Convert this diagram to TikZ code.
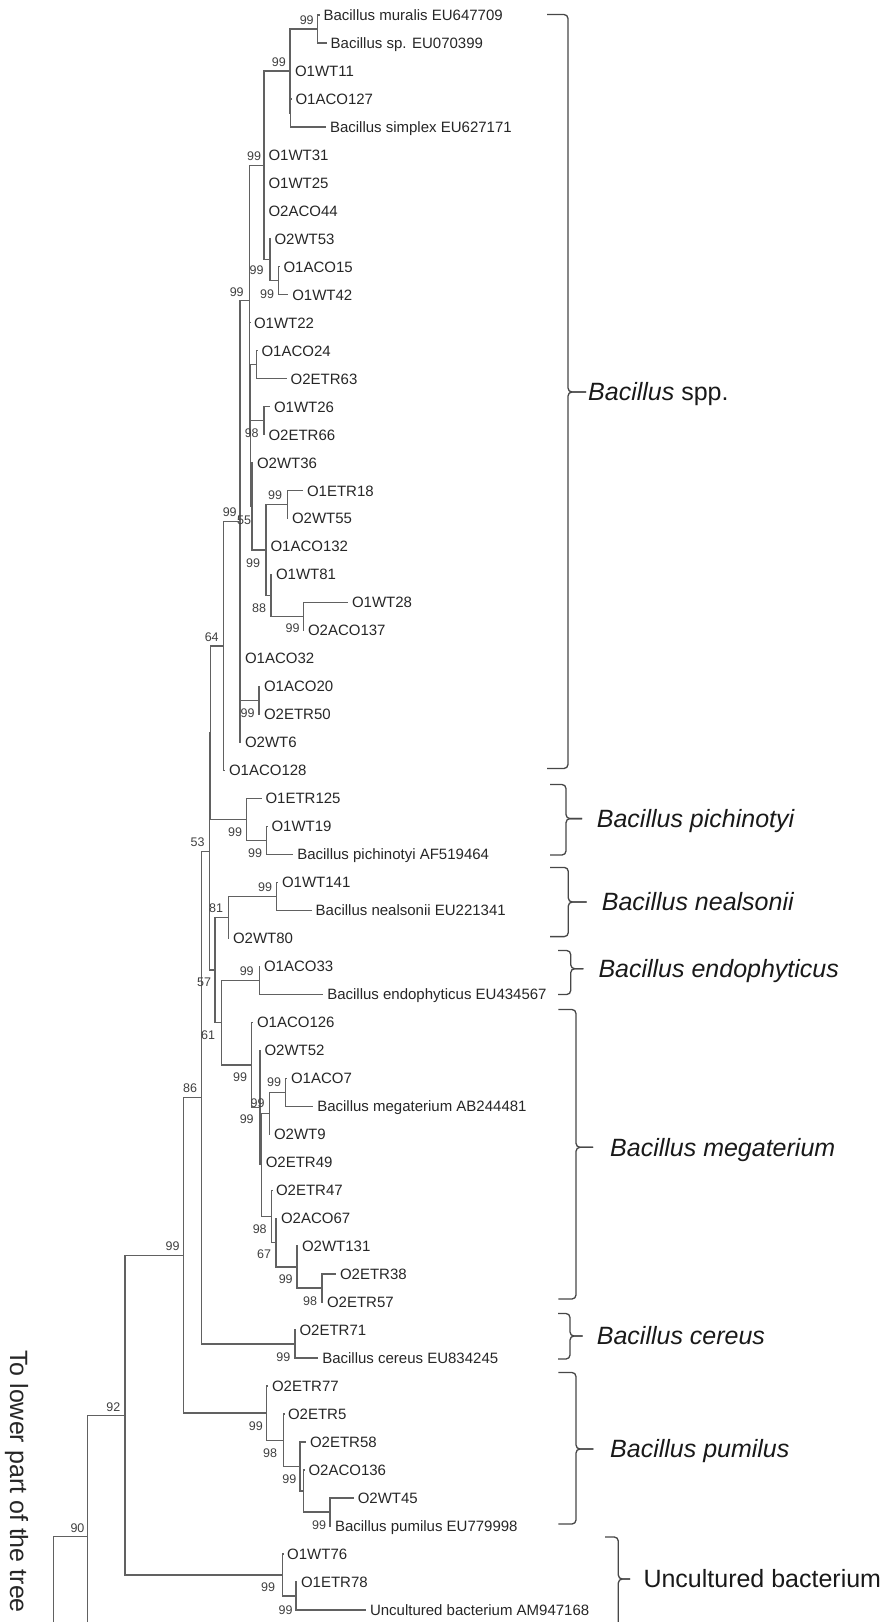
\documentclass[tikz,border=0pt]{standalone}
\usepackage{fontspec}
\setmainfont{Liberation Sans}
\begin{document}
\begin{tikzpicture}[x=1pt,y=-1pt,
  br/.style={draw=black!62, line width=1.3pt},
  leaf/.style={anchor=west, inner xsep=4pt, inner ysep=0pt, outer sep=0pt, text height=10.7pt, text depth=0pt, font=\fontsize{15}{18}\selectfont, text=black!85},
  bs/.style={inner sep=0pt, font=\fontsize{12.5}{14}\selectfont, text=black!75},
  grp/.style={anchor=west, inner sep=0pt, text height=17.9pt, text depth=0pt, font=\fontsize{25}{30}\selectfont, text=black!90},
  bracepath/.style={draw=black!72, line width=1.3pt, rounded corners=4pt}]
\useasboundingbox (0,0) rectangle (887,1622);
% ---------- leaves ----------
\node[leaf] (l0) at (319.5,15) {Bacillus muralis EU647709};
\node[leaf] (l1) at (326.7,42.98) {Bacillus sp. EU070399};
\node[leaf] (l2) at (291,70.96) {O1WT11};
\node[leaf] (l3) at (291.5,98.94) {O1ACO127};
\node[leaf] (l4) at (326,126.92) {Bacillus simplex EU627171};
\node[leaf] (l5) at (264.5,154.9) {O1WT31};
\node[leaf] (l6) at (264.5,182.88) {O1WT25};
\node[leaf] (l7) at (264.5,210.86) {O2ACO44};
\node[leaf] (l8) at (270.5,238.84) {O2WT53};
\node[leaf] (l9) at (279.5,266.82) {O1ACO15};
\node[leaf] (l10) at (288.3,294.8) {O1WT42};
\node[leaf] (l11) at (250,322.78) {O1WT22};
\node[leaf] (l12) at (257.5,350.76) {O1ACO24};
\node[leaf] (l13) at (286.7,378.74) {O2ETR63};
\node[leaf] (l14) at (270,406.72) {O1WT26};
\node[leaf] (l15) at (264.5,434.7) {O2ETR66};
\node[leaf] (l16) at (253,462.68) {O2WT36};
\node[leaf] (l17) at (303,490.66) {O1ETR18};
\node[leaf] (l18) at (288,518.64) {O2WT55};
\node[leaf] (l19) at (266.5,546.62) {O1ACO132};
\node[leaf] (l20) at (272,574.6) {O1WT81};
\node[leaf] (l21) at (348,602.58) {O1WT28};
\node[leaf] (l22) at (304,630.56) {O2ACO137};
\node[leaf] (l23) at (241,658.54) {O1ACO32};
\node[leaf] (l24) at (260,686.52) {O1ACO20};
\node[leaf] (l25) at (260,714.5) {O2ETR50};
\node[leaf] (l26) at (241,742.48) {O2WT6};
\node[leaf] (l27) at (225,770.46) {O1ACO128};
\node[leaf] (l28) at (261.5,798.44) {O1ETR125};
\node[leaf] (l29) at (267.5,826.42) {O1WT19};
\node[leaf] (l30) at (293.3,854.4) {Bacillus pichinotyi AF519464};
\node[leaf] (l31) at (278,882.38) {O1WT141};
\node[leaf] (l32) at (311.7,910.36) {Bacillus nealsonii EU221341};
\node[leaf] (l33) at (229,938.34) {O2WT80};
\node[leaf] (l34) at (260,966.32) {O1ACO33};
\node[leaf] (l35) at (323.3,994.3) {Bacillus endophyticus EU434567};
\node[leaf] (l36) at (253,1022.28) {O1ACO126};
\node[leaf] (l37) at (260.5,1050.26) {O2WT52};
\node[leaf] (l38) at (287,1078.24) {O1ACO7};
\node[leaf] (l39) at (313.3,1106.22) {Bacillus megaterium AB244481};
\node[leaf] (l40) at (270,1134.2) {O2WT9};
\node[leaf] (l41) at (261.8,1162.18) {O2ETR49};
\node[leaf] (l42) at (272,1190.16) {O2ETR47};
\node[leaf] (l43) at (277,1218.14) {O2ACO67};
\node[leaf] (l44) at (298,1246.12) {O2WT131};
\node[leaf] (l45) at (336,1274.1) {O2ETR38};
\node[leaf] (l46) at (323,1302.08) {O2ETR57};
\node[leaf] (l47) at (295.5,1330.06) {O2ETR71};
\node[leaf] (l48) at (318.3,1358.04) {Bacillus cereus EU834245};
\node[leaf] (l49) at (268,1386.02) {O2ETR77};
\node[leaf] (l50) at (284,1414) {O2ETR5};
\node[leaf] (l51) at (306,1441.98) {O2ETR58};
\node[leaf] (l52) at (304.5,1469.96) {O2ACO136};
\node[leaf] (l53) at (353.8,1497.94) {O2WT45};
\node[leaf] (l54) at (331,1525.92) {Bacillus pumilus EU779998};
\node[leaf] (l55) at (283.2,1553.9) {O1WT76};
\node[leaf] (l56) at (297,1581.88) {O1ETR78};
\node[leaf] (l57) at (366,1609.86) {Uncultured bacterium AM947168};
% ---------- internal nodes ----------
\coordinate (A) at (317.3,28.99);
\coordinate (B) at (290,70.96);
\coordinate (B2) at (290.8,112.93);
\coordinate (C) at (264,165.4);
\coordinate (D) at (270,259.83);
\coordinate (E) at (278.3,280.81);
\coordinate (H) at (249.5,300.49);
\coordinate (I) at (250.6,435.58);
\coordinate (J) at (252,506.4);
\coordinate (L) at (256.7,364.75);
\coordinate (M) at (264,420.71);
\coordinate (K) at (266,550.12);
\coordinate (N1) at (287.3,504.65);
\coordinate (K2) at (271,595.59);
\coordinate (K3) at (303.3,616.57);
\coordinate (G) at (240,521.49);
\coordinate (N) at (259,700.51);
\coordinate (P) at (223.3,645.98);
\coordinate (Q) at (210.7,732.7);
\coordinate (R) at (246.7,819.43);
\coordinate (S) at (266.7,840.41);
\coordinate (U) at (209.4,851.34);
\coordinate (Y) at (215,969.98);
\coordinate (W) at (228.3,917.36);
\coordinate (X) at (276.7,896.37);
\coordinate (Z) at (221.7,1022.6);
\coordinate (AA) at (259.3,980.31);
\coordinate (BB) at (251.7,1064.9);
\coordinate (QQ) at (260,1107.53);
\coordinate (QQ2) at (261.3,1164.8);
\coordinate (PP) at (269.3,1113.22);
\coordinate (OO) at (285.7,1092.23);
\coordinate (RR) at (271.7,1216.39);
\coordinate (SS) at (276,1242.62);
\coordinate (TT) at (297,1267.1);
\coordinate (UU) at (322,1288.09);
\coordinate (T) at (201.7,1097.7);
\coordinate (DD) at (295,1344.05);
\coordinate (CC) at (183.3,1255.41);
\coordinate (FF) at (266.5,1413.13);
\coordinate (GG) at (283.5,1440.23);
\coordinate (HH) at (300,1466.47);
\coordinate (HH2) at (303.8,1490.95);
\coordinate (JJ) at (330,1511.93);
\coordinate (EE) at (125,1415.15);
\coordinate (MM) at (282.7,1574.89);
\coordinate (NN) at (296,1595.87);
\coordinate (KK) at (87.7,1536.7);
\coordinate (KKend) at (87.7,1622);
\coordinate (LL) at (53.3,1536.7);
\coordinate (LLend) at (53.3,1622);
% ---------- branches ----------
\draw[br] (A) |- (l0.west) (A) |- (l1.west);
\draw[br] (B) |- (A) (B) |- (l2.west) (B) |- (B2);
\draw[br] (B2) |- (l3.west) (B2) |- (l4.west);
\draw[br] (C) |- (B) (C) |- (l5.west) (C) |- (l6.west) (C) |- (l7.west) (C) |- (D);
\draw[br] (D) |- (l8.west) (D) |- (E);
\draw[br] (E) |- (l9.west) (E) |- (l10.west);
\draw[br] (H) |- (C) (H) |- (l11.west) (H) |- (I);
\draw[br] (I) |- (L) (I) |- (M) (I) |- (J);
\draw[br] (L) |- (l12.west) (L) |- (l13.west);
\draw[br] (M) |- (l14.west) (M) |- (l15.west);
\draw[br] (J) |- (l16.west) (J) |- (K);
\draw[br] (K) |- (N1) (K) |- (l19.west) (K) |- (K2);
\draw[br] (N1) |- (l17.west) (N1) |- (l18.west);
\draw[br] (K2) |- (l20.west) (K2) |- (K3);
\draw[br] (K3) |- (l21.west) (K3) |- (l22.west);
\draw[br] (G) |- (H) (G) |- (l23.west) (G) |- (N) (G) |- (l26.west);
\draw[br] (N) |- (l24.west) (N) |- (l25.west);
\draw[br] (P) |- (G) (P) |- (l27.west);
\draw[br] (Q) |- (P) (Q) |- (R);
\draw[br] (R) |- (l28.west) (R) |- (S);
\draw[br] (S) |- (l29.west) (S) |- (l30.west);
\draw[br] (U) |- (Q) (U) |- (Y);
\draw[br] (Y) |- (W) (Y) |- (Z);
\draw[br] (W) |- (X) (W) |- (l33.west);
\draw[br] (X) |- (l31.west) (X) |- (l32.west);
\draw[br] (Z) |- (AA) (Z) |- (BB);
\draw[br] (AA) |- (l34.west) (AA) |- (l35.west);
\draw[br] (BB) |- (l36.west) (BB) |- (QQ);
\draw[br] (QQ) |- (l37.west) (QQ) |- (QQ2);
\draw[br] (QQ2) |- (PP) (QQ2) |- (l41.west) (QQ2) |- (RR);
\draw[br] (PP) |- (OO) (PP) |- (l40.west);
\draw[br] (OO) |- (l38.west) (OO) |- (l39.west);
\draw[br] (RR) |- (l42.west) (RR) |- (SS);
\draw[br] (SS) |- (l43.west) (SS) |- (TT);
\draw[br] (TT) |- (l44.west) (TT) |- (UU);
\draw[br] (UU) |- (l45.west) (UU) |- (l46.west);
\draw[br] (T) |- (U) (T) |- (DD);
\draw[br] (DD) |- (l47.west) (DD) |- (l48.west);
\draw[br] (CC) |- (T) (CC) |- (FF);
\draw[br] (FF) |- (l49.west) (FF) |- (GG);
\draw[br] (GG) |- (l50.west) (GG) |- (HH);
\draw[br] (HH) |- (l51.west) (HH) |- (HH2);
\draw[br] (HH2) |- (l52.west) (HH2) |- (JJ);
\draw[br] (JJ) |- (l53.west) (JJ) |- (l54.west);
\draw[br] (EE) |- (CC) (EE) |- (MM);
\draw[br] (MM) |- (l55.west) (MM) |- (NN);
\draw[br] (NN) |- (l56.west) (NN) |- (l57.west);
\draw[br] (KK) |- (EE) (KK) -- (KKend);
\draw[br] (LL) -- (KK) (LL) -- (LLend);
% ---------- bootstrap values ----------
\node[bs] (bA) at (306.7,20) {99};
\node[bs] (bB) at (278.8,62.3) {99};
\node[bs] (bC) at (254,156) {99};
\node[bs] (bD) at (256.5,270) {99};
\node[bs] (bE) at (267,294) {99};
\node[bs] (bH) at (236.7,291.7) {99};
\node[bs] (bM) at (251.7,433) {98};
\node[bs] (bN1) at (275,495) {99};
\node[bs] (bG) at (229.7,511.7) {99};
\node[bs] (bJ) at (244,520) {55};
\node[bs] (bK) at (253,563) {99};
\node[bs] (bK2) at (259,608) {88};
\node[bs] (bK3) at (292.5,628) {99};
\node[bs] (bP) at (211.7,636.7) {64};
\node[bs] (bN) at (247.5,713) {99};
\node[bs] (bR) at (235,831.7) {99};
\node[bs] (bS) at (255,853) {99};
\node[bs] (bU) at (197.5,842.5) {53};
\node[bs] (bX) at (265,886.7) {99};
\node[bs] (bW) at (216,908) {81};
\node[bs] (bY) at (204,982.5) {57};
\node[bs] (bAA) at (246.7,971) {99};
\node[bs] (bZ) at (208,1035) {61};
\node[bs] (bBB) at (240,1077.5) {99};
\node[bs] (bOO) at (274,1082) {99};
\node[bs] (bPP) at (257.5,1103) {99};
\node[bs] (bQQ) at (246.7,1119) {99};
\node[bs] (bRR) at (259.7,1229) {98};
\node[bs] (bSS) at (264,1254) {67};
\node[bs] (bTT) at (285.7,1279) {99};
\node[bs] (bUU) at (310,1301) {98};
\node[bs] (bT) at (190,1088) {86};
\node[bs] (bDD) at (283.3,1356.7) {99};
\node[bs] (bCC) at (172.5,1246) {99};
\node[bs] (bFF) at (255.8,1426) {99};
\node[bs] (bGG) at (270,1453) {98};
\node[bs] (bHH) at (289.4,1479) {99};
\node[bs] (bJJ) at (319,1525) {99};
\node[bs] (bMM) at (268,1586.7) {99};
\node[bs] (bNN) at (285.6,1610) {99};
\node[bs] (bEE) at (113.3,1407) {92};
\node[bs] (bKK) at (77.5,1528) {90};
% ---------- braces ----------
\draw[bracepath] (547,14.5) -- (568,14.5) -- (568,392) -- (586,392);
\draw[bracepath] (547,768.5) -- (568,768.5) -- (568,392) -- (586,392);
\draw[bracepath] (550,784.5) -- (566,784.5) -- (566,818.6) -- (582,818.6);
\draw[bracepath] (550,855) -- (566,855) -- (566,818.6) -- (582,818.6);
\draw[bracepath] (550,867.4) -- (568.3,867.4) -- (568.3,902) -- (586.7,902);
\draw[bracepath] (550,936.6) -- (568.3,936.6) -- (568.3,902) -- (586.7,902);
\draw[bracepath] (558,950.5) -- (570.7,950.5) -- (570.7,968.7) -- (583.3,968.7);
\draw[bracepath] (558,994.5) -- (570.7,994.5) -- (570.7,968.7) -- (583.3,968.7);
\draw[bracepath] (558.3,1009.5) -- (576,1009.5) -- (576,1147.3) -- (593,1147.3);
\draw[bracepath] (558.3,1299) -- (576,1299) -- (576,1147.3) -- (593,1147.3);
\draw[bracepath] (558,1313.5) -- (570,1313.5) -- (570,1336) -- (582.7,1336);
\draw[bracepath] (558,1359) -- (570,1359) -- (570,1336) -- (582.7,1336);
\draw[bracepath] (558.3,1372.5) -- (576,1372.5) -- (576,1449) -- (593.3,1449);
\draw[bracepath] (558.3,1524) -- (576,1524) -- (576,1449) -- (593.3,1449);
\draw[bracepath] (605,1537) -- (618.3,1537) -- (618.3,1579) -- (630,1579);
\draw[bracepath] (618.3,1622) -- (618.3,1579) -- (630,1579);
% ---------- group labels ----------
\node[grp] (g1) at (588,392) {\textit{Bacillus} spp.};
\node[grp] (g2) at (596.7,818.6) {\textit{Bacillus pichinotyi}};
\node[grp] (g3) at (601.7,902) {\textit{Bacillus nealsonii}};
\node[grp] (g4) at (598.3,968.7) {\textit{Bacillus endophyticus}};
\node[grp] (g5) at (610,1147.3) {\textit{Bacillus megaterium}};
\node[grp] (g6) at (596.7,1336) {\textit{Bacillus cereus}};
\node[grp] (g7) at (610,1449) {\textit{Bacillus pumilus}};
\node[grp] (g8) at (643.3,1579) {Uncultured bacterium};
% ---------- side text ----------
\node[rotate=-90, anchor=base west, inner sep=0pt, font=\fontsize{25}{30}\selectfont, text=black!85] (side) at (10,1350) {To lower part of the tree};
\end{tikzpicture}
\end{document}
